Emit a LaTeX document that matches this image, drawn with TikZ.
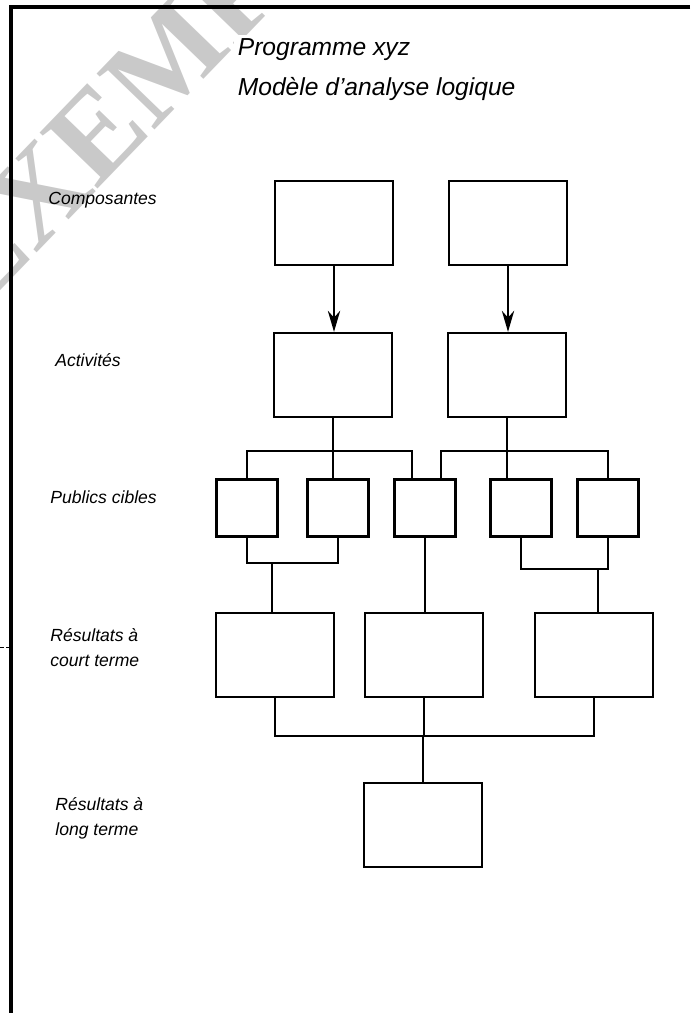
\documentclass[tikz,border=0pt]{standalone}
\usepackage{fontspec}
\setmainfont{Liberation Sans}
\newfontfamily\filigrane{Liberation Serif}
\usetikzlibrary{arrows.meta}

\begin{document}
\begin{tikzpicture}[x=0.02cm, y=-0.02cm,
    boite/.style={draw, line width=1.3pt, minimum width=2.36cm, minimum height=1.68cm, inner sep=0pt},
    petite/.style={draw, line width=1.3pt, minimum width=1.22cm, minimum height=1.14cm, inner sep=0pt},
    lien/.style={line width=1.3pt},
    fleche/.style={lien, -{Stealth[length=12pt, width=7pt]}},
    etiq/.style={anchor=west, align=left, inner sep=0pt, font=\itshape\fontsize{10}{14.2}\selectfont}]

    \useasboundingbox (0,0) rectangle (690,1013);

    % Filigrane
    \begin{scope}
        \clip (0,0) rectangle (690,1013);
        \node[rotate=46, anchor=base west, text=black!21, inner sep=0pt,
              font=\filigrane\bfseries\fontsize{70}{70}\selectfont] (filig) at (-22,314) {EXEMPLAIRE};
    \end{scope}

    % Cadre
    \draw[line width=1.8pt] (690,7) -- (11,7) -- (11,1013);
    \draw[dashed, line width=0.4pt, dash pattern=on 2pt off 1.5pt] (0,647) -- (10,647);

    % Titre
    \node[anchor=north west, fill=white, align=left, inner sep=2pt,
          font=\itshape\fontsize{14}{22.7}\selectfont] (titre) at (234,35)
        {Programme xyz\\Modèle d'analyse logique};

    % Etiquettes des niveaux
    \node[etiq] (lcomp) at (48,200) {Composantes};
    \node[etiq] (lact) at (55,360) {Activités};
    \node[etiq] (lpub) at (50,497) {Publics cibles};
    \node[etiq] (lcourt) at (50,648) {Résultats à\\court terme};
    \node[etiq] (llong) at (55,818) {Résultats à\\long terme};

    % Composantes et activites
    \node[boite] (comp1) at (334,223) {};
    \node[boite] (comp2) at (508,223) {};
    \node[boite] (act1) at (333,375) {};
    \node[boite] (act2) at (507,375) {};

    % Publics cibles
    \node[petite] (pa) at (247,508) {};
    \node[petite] (pb) at (338,508) {};
    \node[petite] (pc) at (425,508) {};
    \node[petite] (pd) at (521,508) {};
    \node[petite] (pe) at (608,508) {};

    % Resultats
    \node[boite] (res1) at (275,655) {};
    \node[boite] (res2) at (424,655) {};
    \node[boite] (res3) at (594,655) {};
    \node[boite] (long) at (423,825) {};

    % Fleches
    \draw[fleche] (comp1.south) -- (comp1.south |- act1.north);
    \draw[fleche] (comp2.south) -- (comp2.south |- act2.north);

    % Liens activites -> publics
    \draw[lien] (act1.south) -- ++(0,33) coordinate (n1);
    \draw[lien] (pa.north) |- (n1) -| ([xshift=-0.26cm]pc.north);
    \draw[lien] (n1) -- (n1 |- pb.north);
    \draw[lien] (act2.south) -- ++(0,33) coordinate (n2);
    \draw[lien] ([xshift=0.32cm]pc.north) |- (n2) -| (pe.north);
    \draw[lien] (n2) -- (n2 |- pd.north);

    % Liens publics -> resultats
    \coordinate (n3) at (272,563);
    \coordinate (n4) at (598,569);
    \draw[lien] (pa.south) |- (n3) -| (pb.south);
    \draw[lien] (n3) -- (n3 |- res1.north);
    \draw[lien] (pc.south) -- (pc.south |- res2.north);
    \draw[lien] (pd.south) |- (n4) -| (pe.south);
    \draw[lien] (n4) -- (n4 |- res3.north);

    % Resultats a long terme
    \coordinate (n5) at (423,736);
    \draw[lien] (res1.south) |- (n5) -| (res3.south);
    \draw[lien] (res2.south) -- (res2.south |- n5);
    \draw[lien] (n5) -- (long.north);
\end{tikzpicture}
\end{document}
